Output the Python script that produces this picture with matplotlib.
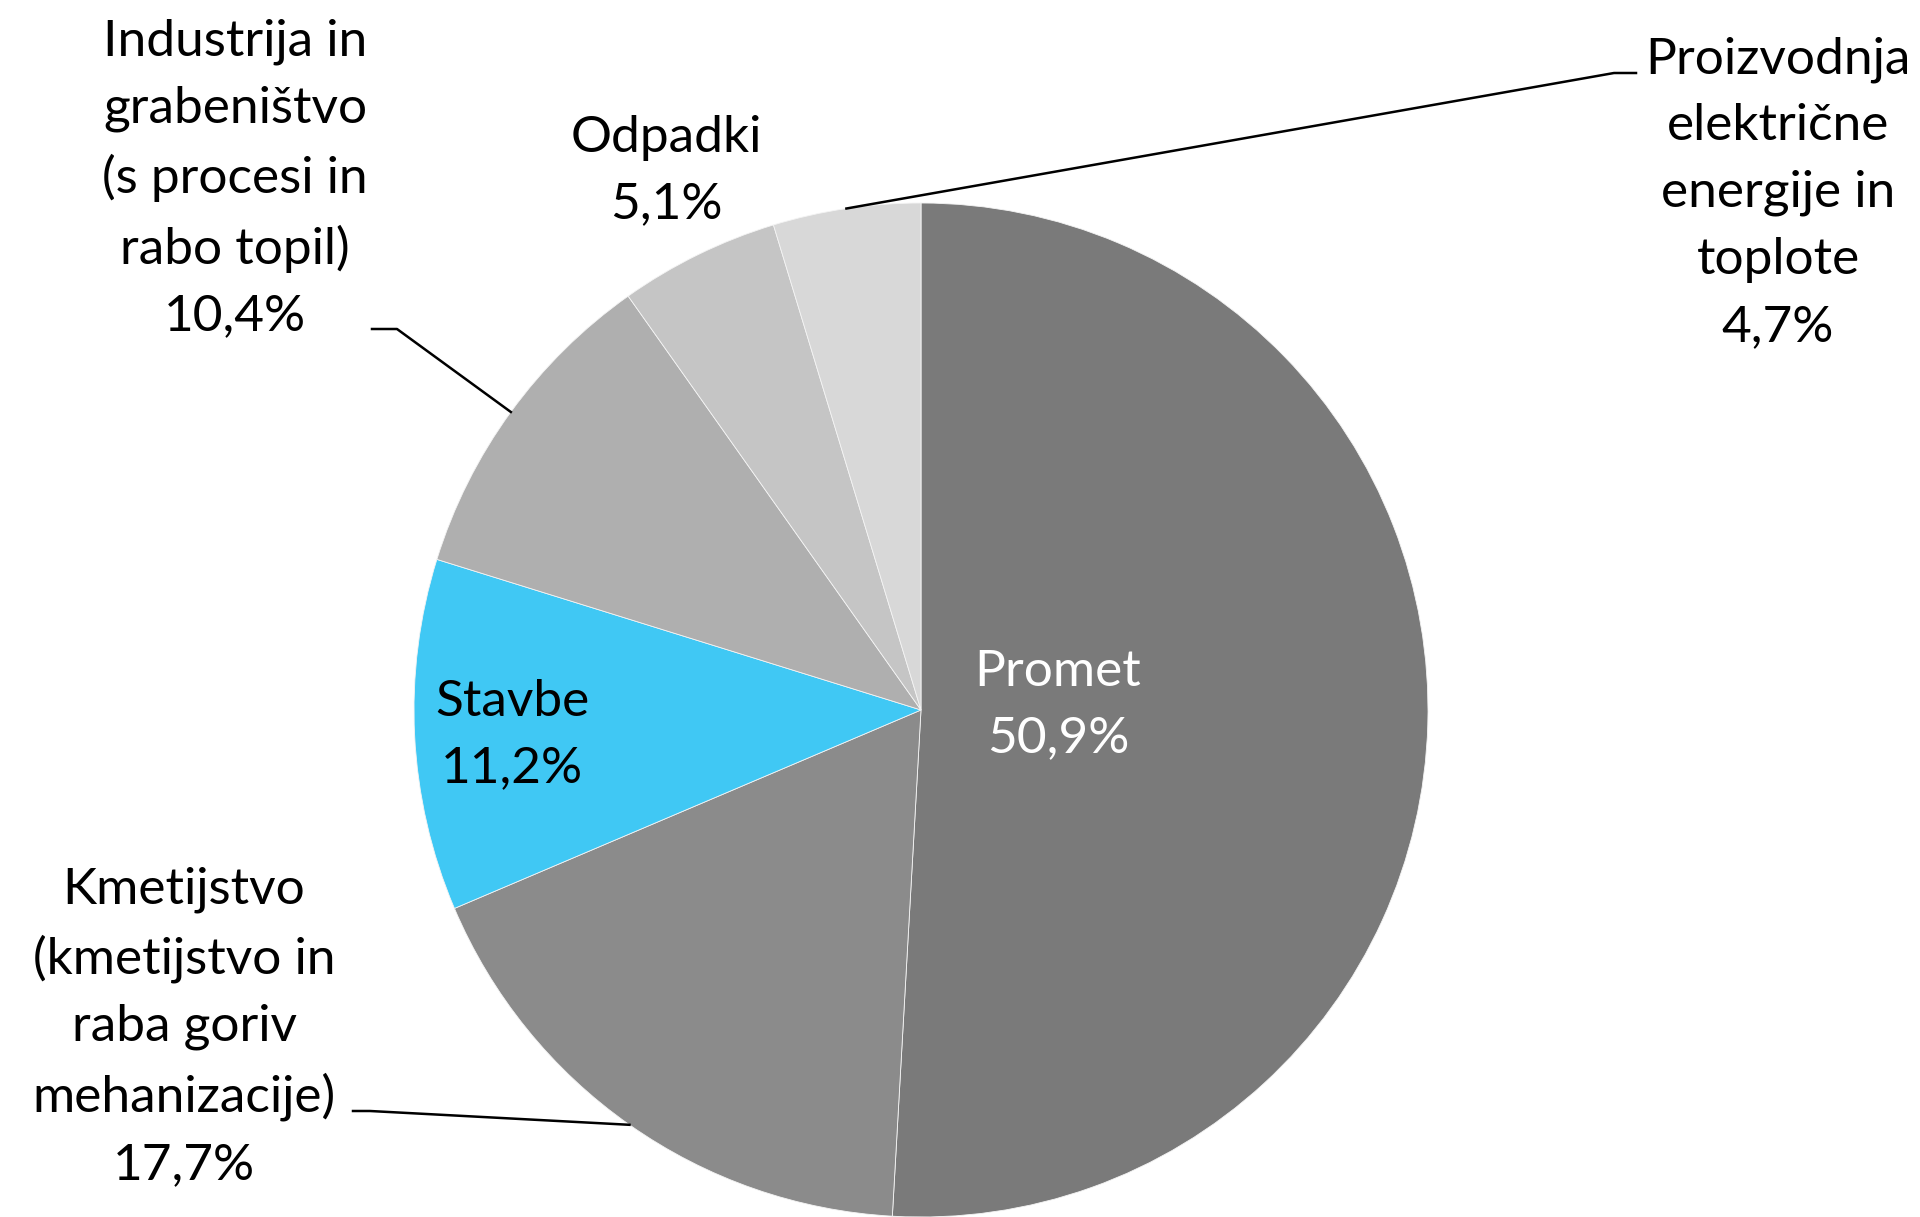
import numpy as np
import matplotlib.pyplot as plt

plt.rcParams['font.family'] = ['Lato', 'DejaVu Sans']

labels = ['Promet', 'Kmetijstvo\n(kmetijstvo in\nraba goriv\nmehanizacije)', 'Stavbe',
          'Industrija in\ngrabeništvo\n(s procesi in\nrabo topil)', 'Odpadki',
          'Proizvodnja\nelektrične\nenergije in\ntoplote']
shares = [50.9, 17.7, 11.2, 10.4, 5.1, 4.7]
colors = ['#7a7a7a', '#8b8b8b', '#40c8f4', '#afafaf', '#c5c5c5', '#d8d8d8']

W, H = 1920, 1217
fig = plt.figure(figsize=(W / 100, H / 100), dpi=100)
ax = fig.add_axes([0, 0, 1, 1])

cx, cy, r = 921, H - 710, 507
wedges, _ = ax.pie(shares, colors=colors, startangle=90, counterclock=False,
                   center=(cx, cy), radius=r,
                   wedgeprops=dict(edgecolor='#f4f4f4', linewidth=0.6))
ax.set_xlim(0, W)
ax.set_ylim(0, H)
ax.set_aspect('equal')
ax.axis('off')

# label positions (pixel coords from top-left), text colour, leader end points
label_pos = [(1058, 705), (184, 1027), (512, 735), (235, 179), (666, 171), (1778, 193)]
text_col = ['white', 'black', 'black', 'black', 'black', 'black']
leaders = {1: [(370, 1111), (353, 1111)],
           3: [(397, 329), (372, 329)],
           5: [(1614, 73), (1636, 73)]}

for i, (w, lab, v) in enumerate(zip(wedges, labels, shares)):
    txt = lab + '\n' + f'{v:.1f}%'.replace('.', ',')
    x, y = label_pos[i]
    ax.text(x, H - y, txt, ha='center', va='center', multialignment='center',
            fontsize=37, linespacing=1.56, color=text_col[i])
    if i in leaders:
        ang = np.deg2rad((w.theta1 + w.theta2) / 2)
        px = [cx + r * np.cos(ang)] + [p[0] for p in leaders[i]]
        py = [cy + r * np.sin(ang)] + [H - p[1] for p in leaders[i]]
        ax.plot(px, py, color='black', lw=1.8)

fig.savefig('out.png', dpi=100)
